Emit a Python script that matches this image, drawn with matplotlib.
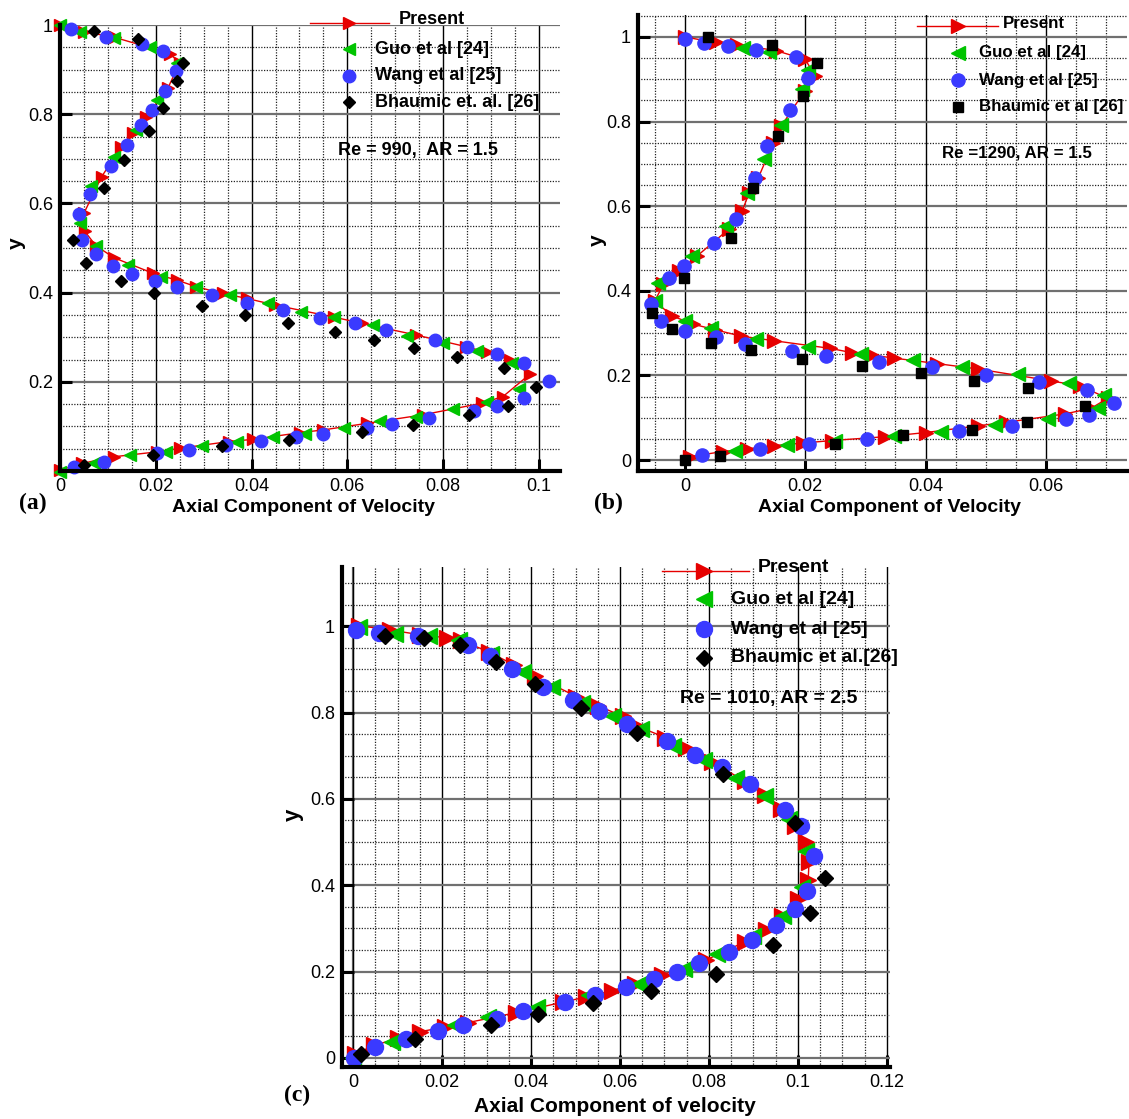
import numpy as np
import matplotlib.pyplot as plt
from matplotlib.lines import Line2D
from matplotlib.ticker import MultipleLocator, FixedLocator, FixedFormatter

plt.rcParams['font.family'] = ['Liberation Sans', 'DejaVu Sans']

W, H = 1129, 1119
RED = '#e60000'
GREEN = '#00c400'
BLUE = '#3a3aff'
BLACK = '#000000'

# ---- (a) Re = 990, AR = 1.5 ----
a_present_x = [0.000, 0.005, 0.0115, 0.0229, 0.025, 0.0225, 0.0179, 0.0152, 0.0128, 0.0087,
               0.005, 0.0052, 0.0075, 0.0113, 0.0195, 0.0244, 0.0285, 0.034, 0.039, 0.0449,
               0.0572, 0.0631, 0.0743, 0.0847, 0.0892, 0.094, 0.0981, 0.0925, 0.0881, 0.0758,
               0.0642, 0.0549, 0.0501, 0.0404, 0.0352, 0.0251, 0.0203, 0.0113, 0.0046, 0.000]
a_present_y = [1.000, 0.985, 0.972, 0.936, 0.915, 0.858, 0.794, 0.757, 0.727, 0.660,
               0.578, 0.537, 0.505, 0.478, 0.443, 0.428, 0.413, 0.398, 0.387, 0.372,
               0.345, 0.331, 0.305, 0.279, 0.266, 0.249, 0.217, 0.167, 0.152, 0.126,
               0.107, 0.092, 0.086, 0.071, 0.066, 0.051, 0.043, 0.032, 0.017, 0.002]
a_guo_x = [0.000, 0.0042, 0.0113, 0.0188, 0.0244, 0.0203, 0.0158, 0.0112, 0.0065, 0.0042,
           0.0075, 0.0143, 0.021, 0.0285, 0.0355, 0.0434, 0.0504, 0.0572, 0.0653, 0.0724,
           0.0799, 0.087, 0.0944, 0.0959, 0.0892, 0.0821, 0.0743, 0.0668, 0.0594, 0.0512,
           0.0445, 0.037, 0.0296, 0.0221, 0.0147, 0.007, 0.000]
a_guo_y = [1.000, 0.985, 0.970, 0.950, 0.914, 0.832, 0.765, 0.703, 0.638, 0.557,
           0.505, 0.462, 0.436, 0.413, 0.395, 0.376, 0.357, 0.346, 0.327, 0.303,
           0.288, 0.268, 0.243, 0.183, 0.155, 0.138, 0.122, 0.111, 0.097, 0.084,
           0.077, 0.064, 0.056, 0.043, 0.036, 0.019, -0.0015]
a_wang_x = [0.0024, 0.0096, 0.0171, 0.0215, 0.0242, 0.022, 0.0193, 0.0169, 0.0139, 0.0106,
            0.0063, 0.004, 0.0045, 0.0075, 0.011, 0.0151, 0.0199, 0.0245, 0.0317, 0.039,
            0.0466, 0.0543, 0.0615, 0.068, 0.0782, 0.0849, 0.0913, 0.0968, 0.1022, 0.0968,
            0.0913, 0.0864, 0.077, 0.0694, 0.0642, 0.055, 0.0493, 0.0419, 0.0346, 0.027,
            0.0203, 0.0091, 0.0029]
a_wang_y = [0.990, 0.972, 0.957, 0.942, 0.897, 0.853, 0.809, 0.776, 0.732, 0.684,
            0.621, 0.576, 0.518, 0.486, 0.460, 0.442, 0.425, 0.412, 0.394, 0.376,
            0.361, 0.342, 0.331, 0.316, 0.294, 0.277, 0.262, 0.243, 0.202, 0.163,
            0.146, 0.135, 0.118, 0.105, 0.097, 0.084, 0.077, 0.068, 0.058, 0.047,
            0.040, 0.021, 0.010]
a_bhaumic_x = [0.0071, 0.0163, 0.0256, 0.0245, 0.0215, 0.0186, 0.0134, 0.0092, 0.0028, 0.0054,
               0.0127, 0.0197, 0.0297, 0.0386, 0.0477, 0.0574, 0.0656, 0.0739, 0.0829, 0.0928,
               0.0993, 0.0936, 0.0855, 0.0738, 0.0631, 0.0478, 0.0338, 0.0194, 0.0051]
a_bhaumic_y = [0.987, 0.968, 0.914, 0.874, 0.815, 0.763, 0.697, 0.635, 0.519, 0.466,
               0.425, 0.400, 0.371, 0.350, 0.331, 0.311, 0.294, 0.275, 0.256, 0.230,
               0.189, 0.146, 0.126, 0.103, 0.088, 0.070, 0.055, 0.036, 0.013]

# ---- (b) Re = 1290, AR = 1.5 ----
b_present_x = [0.000, 0.0051, 0.0086, 0.0151, 0.020, 0.0217, 0.0199, 0.016, 0.0147, 0.0122,
               0.0107, 0.0095, 0.0074, 0.002, -0.001, -0.0036, -0.005, -0.0022, 0.0014, 0.005,
               0.0093, 0.0148, 0.0241, 0.0277, 0.0311, 0.0347, 0.0419, 0.0488, 0.0609, 0.0657,
               0.0703, 0.0675, 0.0632, 0.0534, 0.0488, 0.0401, 0.0332, 0.0244, 0.0196, 0.0148,
               0.0103, 0.0063, 0.0009]
b_present_y = [1.000, 0.987, 0.982, 0.968, 0.947, 0.907, 0.872, 0.789, 0.750, 0.667,
               0.632, 0.588, 0.547, 0.482, 0.447, 0.415, 0.376, 0.341, 0.321, 0.308,
               0.293, 0.282, 0.264, 0.254, 0.248, 0.241, 0.228, 0.215, 0.187, 0.175,
               0.146, 0.122, 0.109, 0.089, 0.081, 0.065, 0.055, 0.046, 0.040, 0.034,
               0.026, 0.020, 0.008]
b_guo_x = [0.0096, 0.014, 0.0204, 0.0195, 0.016, 0.0131, 0.0103, 0.0069, 0.0012, -0.0045,
           -0.005, 0.000, 0.0044, 0.0119, 0.0204, 0.0292, 0.038, 0.0461, 0.0553, 0.0639,
           0.0696, 0.0686, 0.0603, 0.0516, 0.0425, 0.0347, 0.025, 0.0169, 0.0084]
b_guo_y = [0.974, 0.964, 0.921, 0.877, 0.793, 0.712, 0.632, 0.553, 0.482, 0.418,
           0.376, 0.329, 0.313, 0.286, 0.266, 0.250, 0.236, 0.220, 0.203, 0.181,
           0.153, 0.124, 0.098, 0.083, 0.067, 0.057, 0.046, 0.035, 0.022]
b_wang_x = [0.000, 0.0032, 0.0071, 0.0119, 0.0184, 0.0204, 0.0174, 0.0137, 0.0116, 0.0085,
            0.0048, -0.0002, -0.0027, -0.0056, -0.0039, 0.000, 0.0051, 0.010, 0.0178, 0.0235,
            0.0323, 0.041, 0.050, 0.0588, 0.0668, 0.0713, 0.0672, 0.0634, 0.0543, 0.0455,
            0.0302, 0.0207, 0.0125, 0.0028]
b_wang_y = [0.996, 0.986, 0.978, 0.969, 0.952, 0.902, 0.828, 0.742, 0.667, 0.570,
            0.512, 0.459, 0.431, 0.368, 0.329, 0.305, 0.290, 0.275, 0.258, 0.246,
            0.232, 0.219, 0.201, 0.185, 0.166, 0.135, 0.106, 0.097, 0.081, 0.069,
            0.050, 0.038, 0.026, 0.012]
b_bhaumic_x = [0.0039, 0.0144, 0.022, 0.0197, 0.0154, 0.0113, 0.0077, -0.0002, -0.0055, -0.0022,
               0.0044, 0.011, 0.0194, 0.0295, 0.0393, 0.0481, 0.057, 0.0665, 0.0568, 0.0478,
               0.0363, 0.025, 0.0059, 0.000]
b_bhaumic_y = [0.999, 0.980, 0.939, 0.860, 0.767, 0.642, 0.524, 0.430, 0.347, 0.309,
               0.276, 0.260, 0.238, 0.223, 0.205, 0.186, 0.170, 0.127, 0.090, 0.072,
               0.060, 0.038, 0.010, 0.001]

# ---- (c) Re = 1010, AR = 2.5 ----
c_present_x = [0.0005, 0.0048, 0.0101, 0.0151, 0.0206, 0.0259, 0.0367, 0.0471, 0.0523, 0.0583,
               0.0633, 0.0694, 0.0794, 0.0881, 0.0929, 0.0965, 0.100, 0.1023, 0.1025, 0.1018,
               0.0993, 0.0961, 0.0927, 0.0881, 0.0807, 0.0748, 0.0702, 0.0647, 0.0606, 0.055,
               0.0502, 0.0408, 0.0362, 0.0306, 0.0243, 0.0211, 0.0151, 0.0084, 0.0014]
c_present_y = [0.010, 0.029, 0.046, 0.061, 0.071, 0.082, 0.105, 0.129, 0.141, 0.156,
               0.172, 0.192, 0.227, 0.269, 0.297, 0.328, 0.368, 0.412, 0.454, 0.500,
               0.538, 0.576, 0.610, 0.641, 0.685, 0.717, 0.742, 0.765, 0.791, 0.816,
               0.837, 0.885, 0.910, 0.940, 0.967, 0.973, 0.980, 0.991, 1.001]
c_guo_x = [0.0014, 0.0094, 0.017, 0.0237, 0.031, 0.0381, 0.0448, 0.0514, 0.0585, 0.0647,
           0.072, 0.0789, 0.0861, 0.0927, 0.098, 0.1018, 0.1009, 0.0966, 0.0899, 0.0817,
           0.0743, 0.0642, 0.053, 0.0413, 0.0303, 0.0229, 0.0087, 0.000]
c_guo_y = [0.997, 0.982, 0.978, 0.969, 0.935, 0.893, 0.858, 0.823, 0.791, 0.761,
           0.723, 0.690, 0.648, 0.606, 0.553, 0.479, 0.395, 0.328, 0.282, 0.240,
           0.206, 0.172, 0.145, 0.119, 0.094, 0.077, 0.038, 0.000]
c_wang_x = [0.0006, 0.0058, 0.0145, 0.0259, 0.0307, 0.0358, 0.0428, 0.0495, 0.0553, 0.0615,
            0.0706, 0.0769, 0.083, 0.0893, 0.0971, 0.1007, 0.1037, 0.1021, 0.0993, 0.095,
            0.0896, 0.0844, 0.0778, 0.0729, 0.0677, 0.0613, 0.0544, 0.0477, 0.0383, 0.0324,
            0.0248, 0.0191, 0.0119, 0.0049, 0.0002]
c_wang_y = [0.992, 0.984, 0.978, 0.957, 0.931, 0.900, 0.860, 0.830, 0.803, 0.774,
            0.733, 0.702, 0.673, 0.635, 0.574, 0.537, 0.467, 0.387, 0.345, 0.307,
            0.273, 0.246, 0.219, 0.199, 0.183, 0.164, 0.146, 0.130, 0.108, 0.091,
            0.076, 0.063, 0.044, 0.025, 0.000]
c_bhaumic_x = [0.0018, 0.014, 0.0309, 0.0415, 0.0539, 0.067, 0.0815, 0.0943, 0.1028, 0.106,
               0.0994, 0.0832, 0.0639, 0.0512, 0.0408, 0.0321, 0.0241, 0.0159, 0.0072]
c_bhaumic_y = [0.008, 0.044, 0.077, 0.101, 0.128, 0.156, 0.195, 0.261, 0.336, 0.416,
               0.545, 0.658, 0.753, 0.810, 0.866, 0.918, 0.957, 0.973, 0.978]

a_xticks = [0, 0.02, 0.04, 0.06, 0.08, 0.1]
a_xlabels = ['0', '0.02', '0.04', '0.06', '0.08', '0.1']
a_yticks = [0.2, 0.4, 0.6, 0.8, 1.0]
a_ylabels = ['0.2', '0.4', '0.6', '0.8', '1']
b_xticks = [0, 0.02, 0.04, 0.06]
b_xlabels = ['0', '0.02', '0.04', '0.06']
b_yticks = [0, 0.2, 0.4, 0.6, 0.8, 1.0]
b_ylabels = ['0', '0.2', '0.4', '0.6', '0.8', '1']
c_xticks = [0, 0.02, 0.04, 0.06, 0.08, 0.1, 0.12]
c_xlabels = ['0', '0.02', '0.04', '0.06', '0.08', '0.1', '0.12']
c_yticks = [0, 0.2, 0.4, 0.6, 0.8, 1.0]
c_ylabels = ['0', '0.2', '0.4', '0.6', '0.8', '1']

series_names = ['Present', 'Guo et al [24]', 'Wang et al [25]']

fig = plt.figure(figsize=(W / 100, H / 100), dpi=100)


def fx(x):
    return x / W


def fy(y):
    return 1 - y / H


def make_axes(left, top, right, bottom, xlim, ylim, xticks, xlabels, yticks, ylabels):
    ax = fig.add_axes([fx(left), fy(bottom), (right - left) / W, (bottom - top) / H])
    ax.set_xlim(*xlim)
    ax.set_ylim(*ylim)
    for s in ['top', 'right']:
        ax.spines[s].set_visible(False)
    for s in ['left', 'bottom']:
        ax.spines[s].set_linewidth(3)
        ax.spines[s].set_zorder(6)
    ax.xaxis.set_major_locator(FixedLocator(xticks))
    ax.xaxis.set_major_formatter(FixedFormatter(xlabels))
    ax.yaxis.set_major_locator(FixedLocator(yticks))
    ax.yaxis.set_major_formatter(FixedFormatter(ylabels))
    ax.xaxis.set_minor_locator(MultipleLocator(0.005))
    ax.yaxis.set_minor_locator(MultipleLocator(0.05))
    ax.tick_params(which='major', direction='in', length=8.5, width=2.2,
                   labelsize=13, pad=5)
    ax.tick_params(which='minor', length=0)
    ax.xaxis.grid(True, which='major', color='black', lw=1.0)
    ax.yaxis.grid(True, which='major', color='#707070', lw=1.6)
    ax.grid(True, which='minor', color='#222222', lw=0.9, ls=(0, (1, 1.2)))
    ax.set_axisbelow(True)
    return ax


def draw_series(ax, px, py, gx, gy, wx, wy, bx, by, bmark, ms):
    ax.plot(px, py, color=RED, lw=1.0, marker='>', ms=ms, mec=RED, mfc=RED,
            clip_on=False, zorder=3)
    ax.plot(gx, gy, ls='none', marker='<', ms=ms, color=GREEN, clip_on=False, zorder=4)
    ax.plot(wx, wy, ls='none', marker='o', ms=ms, color=BLUE, clip_on=False, zorder=4)
    bms = ms * 0.72 if bmark == 'D' else ms * 0.75
    ax.plot(bx, by, ls='none', marker=bmark, ms=bms, color=BLACK, clip_on=False, zorder=5)


def draw_key(line_x0, line_x1, mark_x, rows_y, text_x, present_x, labels, bmark, ms, fs, note, note_xy):
    fig.add_artist(Line2D([fx(line_x0), fx(line_x1)], [fy(rows_y[0])] * 2, color=RED, lw=1.0))
    fig.add_artist(Line2D([fx(mark_x)], [fy(rows_y[0])], marker='>', ms=ms, color=RED, ls='none'))
    fig.text(fx(present_x), fy(rows_y[0] - 3), labels[0], ha='left', va='center',
             fontsize=fs, fontweight='bold')
    marks = [('<', GREEN, ms), ('o', BLUE, ms),
             (bmark, BLACK, ms * 0.72 if bmark == 'D' else ms * 0.75)]
    for (m, c, s), yy, lab in zip(marks, rows_y[1:], labels[1:]):
        fig.add_artist(Line2D([fx(mark_x)], [fy(yy)], marker=m, ms=s, color=c, ls='none'))
        fig.text(fx(text_x), fy(yy), lab, ha='left', va='center', fontsize=fs, fontweight='bold')
    fig.text(fx(note_xy[0]), fy(note_xy[1]), note, ha='left', va='center',
             fontsize=fs, fontweight='bold')


def panel_labels(tag, tag_xy, xlab, xlab_xy, ylab_xy, fs):
    fig.text(fx(tag_xy[0]), fy(tag_xy[1]), tag, ha='left', va='center', fontsize=17,
             fontweight='bold', family='Liberation Serif')
    fig.text(fx(xlab_xy[0]), fy(xlab_xy[1]), xlab, ha='center', va='center',
             fontsize=fs, fontweight='bold')
    fig.text(fx(ylab_xy[0]), fy(ylab_xy[1]), 'y', ha='center', va='center',
             fontsize=fs + 1, fontweight='bold', rotation=90)


# (a)
ax_a = make_axes(60, 25, 560, 471, (0, 0.1044), (0, 1.0),
                 a_xticks, a_xlabels, a_yticks, a_ylabels)
draw_series(ax_a, a_present_x, a_present_y, a_guo_x, a_guo_y, a_wang_x, a_wang_y,
            a_bhaumic_x, a_bhaumic_y, 'D', 9)
draw_key(310, 389, 349, [23, 49, 76, 102], 375, 399,
         series_names + ['Bhaumic et. al. [26]'], 'D', 9, 13,
         'Re = 990,  AR = 1.5', (338, 150))
panel_labels('(a)', (19, 503), 'Axial Component of Velocity', (304, 507), (16, 243), 14)

# (b)
ax_b = make_axes(638, 15, 1127, 471, (-0.0078, 0.0735), (-0.026, 1.052),
                 b_xticks, b_xlabels, b_yticks, b_ylabels)
draw_series(ax_b, b_present_x, b_present_y, b_guo_x, b_guo_y, b_wang_x, b_wang_y,
            b_bhaumic_x, b_bhaumic_y, 's', 9.5)
draw_key(917, 998, 958, [26, 53, 80, 107], 979, 1003,
         series_names + ['Bhaumic et al [26]'], 's', 9.5, 12.2,
         'Re =1290, AR = 1.5', (942, 153))
panel_labels('(b)', (594, 503), 'Axial Component of Velocity', (890, 507), (597, 240), 14)

# (c)
ax_c = make_axes(342, 567, 890, 1067, (-0.0025, 0.1207), (-0.021, 1.137),
                 c_xticks, c_xlabels, c_yticks, c_ylabels)
ax_c.axvline(0, color='#707070', lw=1.6, zorder=0.5)
draw_series(ax_c, c_present_x, c_present_y, c_guo_x, c_guo_y, c_wang_x, c_wang_y,
            c_bhaumic_x, c_bhaumic_y, 'D', 11.5)
draw_key(662, 749, 704, [571, 599, 629, 658], 731, 758,
         ['Present', 'Guo et al [24]', 'Wang et al [25]', 'Bhaumic et al.[26]'], 'D', 11.5, 14,
         'Re = 1010, AR = 2.5', (680, 699))
panel_labels('(c)', (284, 1095), 'Axial Component of velocity', (615, 1106), (293, 815), 15)

fig.savefig('out.png', dpi=100)
